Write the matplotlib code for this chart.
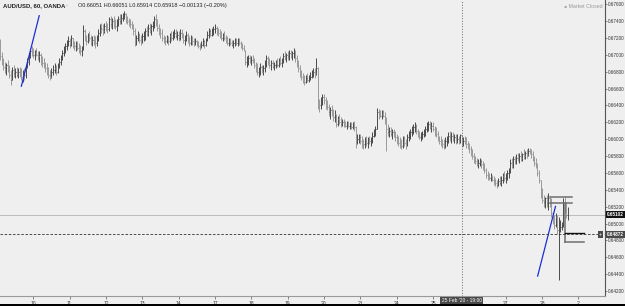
import numpy as np
import matplotlib
matplotlib.use("Agg")
import matplotlib.pyplot as plt
import matplotlib.transforms as mtransforms
from matplotlib.collections import LineCollection
from matplotlib import font_manager

plt.rcParams['font.family'] = ['Liberation Sans', 'DejaVu Sans']
_names = {f.name for f in font_manager.fontManager.ttflist}
NARROW = 'Liberation Sans Narrow' if 'Liberation Sans Narrow' in _names else 'Liberation Sans'
YSIZE = 3.9 if NARROW == 'Liberation Sans Narrow' else 3.3

# ---------------- data (hourly bars, prices in pips = price*10000) ----------------
lows_pips = [
    6694,6688,6682,6678,6676,6680,6672,6664,6670,6674,
    6672,6674,6672,6674,6670,6668,6670,6672,6684,6688,
    6696,6698,6696,6694,6698,6694,6692,6688,6686,6684,
    6680,6676,6672,6670,6672,6676,6678,6676,6678,6684,
    6688,6694,6698,6702,6706,6710,6708,6710,6708,6706,
    6704,6706,6702,6700,6698,6706,6716,6712,6714,6716,
    6712,6710,6712,6708,6710,6716,6722,6726,6724,6726,
    6728,6726,6728,6732,6730,6732,6730,6728,6734,6736,
    6736,6740,6742,6738,6736,6734,6732,6730,6724,6710,
    6712,6716,6714,6712,6714,6716,6718,6722,6722,6726,
    6724,6728,6732,6734,6728,6724,6720,6716,6714,6712,
    6714,6712,6714,6716,6718,6720,6720,6718,6716,6718,
    6720,6714,6712,6716,6714,6710,6712,6712,6710,6712,
    6710,6708,6706,6708,6710,6708,6710,6716,6720,6722,
    6722,6724,6726,6724,6722,6720,6718,6716,6718,6714,
    6712,6710,6712,6710,6708,6710,6712,6710,6712,6708,
    6706,6704,6688,6686,6688,6690,6688,6690,6684,6680,
    6676,6674,6676,6678,6676,6680,6686,6688,6684,6682,
    6684,6682,6684,6686,6686,6688,6686,6690,6694,6692,
    6694,6694,6696,6694,6696,6692,6686,6680,6674,6670,
    6666,6664,6666,6668,6668,6670,6672,6674,6672,6676,
    6636,6632,6636,6640,6642,6636,6634,6628,6624,6628,
    6622,6620,6614,6616,6618,6614,6616,6614,6614,6612,
    6614,6612,6612,6612,6610,6590,6594,6596,6594,6590,
    6588,6590,6592,6590,6594,6592,6596,6602,6604,6612,
    6624,6626,6624,6626,6618,6586,6604,6602,6604,6600,
    6602,6598,6594,6592,6590,6588,6590,6592,6588,6592,
    6598,6600,6604,6606,6608,6606,6602,6600,6598,6600,
    6602,6604,6608,6610,6612,6608,6610,6604,6602,6598,
    6594,6592,6590,6588,6590,6592,6596,6598,6596,6598,
    6596,6594,6596,6594,6596,6591,6592,6594,6590,6588,
    6584,6580,6576,6572,6570,6568,6566,6568,6566,6564,
    6560,6554,6552,6552,6550,6550,6546,6544,6542,6544,
    6546,6544,6548,6550,6548,6552,6554,6560,6566,6566,
    6570,6570,6574,6572,6574,6574,6576,6576,6578,6580,
    6582,6578,6574,6568,6566,6556,6548,6530,6524,6520,
    6518,6520,6516,6520,6508,6500,6494,6496,6488,6433,
    6490,6492,6496,6514,6506,6504,
]
highs_pips = [
    6719,6703,6696,6692,6690,6694,6688,6682,6686,6688,
    6684,6686,6684,6686,6684,6682,6684,6688,6696,6702,
    6708,6710,6708,6706,6708,6704,6704,6702,6698,6696,
    6692,6690,6686,6682,6684,6688,6690,6688,6690,6696,
    6700,6706,6710,6714,6718,6722,6720,6724,6720,6716,
    6716,6716,6714,6712,6710,6735,6730,6724,6726,6728,
    6724,6722,6724,6722,6724,6730,6736,6738,6736,6738,
    6740,6738,6745,6746,6744,6746,6742,6742,6746,6748,
    6748,6750,6752,6750,6746,6744,6742,6740,6736,6732,
    6724,6728,6726,6724,6726,6728,6732,6734,6736,6738,
    6736,6740,6746,6748,6742,6736,6732,6730,6724,6722,
    6724,6722,6726,6728,6728,6730,6730,6728,6728,6730,
    6730,6726,6724,6728,6726,6722,6724,6722,6720,6720,
    6718,6716,6714,6716,6720,6718,6720,6728,6732,6730,
    6732,6734,6736,6734,6732,6730,6728,6726,6728,6724,
    6722,6720,6720,6718,6718,6720,6720,6720,6720,6716,
    6714,6712,6706,6698,6700,6700,6698,6700,6696,6692,
    6690,6686,6690,6688,6688,6694,6700,6698,6696,6694,
    6694,6692,6694,6696,6696,6698,6696,6702,6704,6702,
    6704,6706,6706,6704,6708,6706,6700,6694,6688,6682,
    6678,6676,6676,6678,6676,6680,6682,6684,6684,6696,
    6686,6648,6650,6654,6654,6650,6646,6642,6638,6640,
    6636,6634,6630,6628,6630,6626,6624,6624,6622,6622,
    6622,6620,6620,6620,6622,6616,6606,6606,6606,6604,
    6600,6602,6604,6602,6604,6602,6608,6612,6616,6637,
    6636,6634,6634,6634,6632,6626,6618,6614,6614,6612,
    6612,6610,6606,6604,6602,6600,6604,6604,6600,6606,
    6610,6612,6616,6618,6620,6618,6612,6610,6608,6610,
    6612,6616,6620,6622,6622,6620,6620,6616,6614,6610,
    6604,6604,6600,6600,6602,6604,6608,6610,6608,6608,
    6606,6606,6606,6604,6606,6605,6602,6604,6602,6598,
    6596,6592,6588,6584,6580,6578,6576,6578,6576,6574,
    6572,6566,6562,6560,6560,6558,6556,6554,6552,6554,
    6556,6556,6560,6562,6560,6564,6566,6576,6578,6580,
    6580,6582,6584,6584,6586,6584,6588,6586,6588,6590,
    6590,6588,6586,6580,6578,6572,6564,6552,6542,6534,
    6532,6534,6536,6532,6530,6514,6510,6512,6510,6508,
    6504,6502,6530,6532,6526,6520,
]
closes_pips = [
    6698,6692,6686,6684,6688,6683,6676,6670,6682,6678,
    6680,6676,6680,6678,6674,6680,6676,6686,6692,6700,
    6704,6702,6700,6704,6700,6698,6700,6694,6690,6688,
    6684,6680,6676,6674,6680,6682,6684,6680,6688,6692,
    6696,6702,6706,6710,6714,6716,6712,6720,6712,6710,
    6712,6708,6706,6704,6708,6728,6720,6716,6722,6720,
    6716,6718,6716,6714,6720,6726,6732,6730,6728,6734,
    6732,6730,6742,6736,6740,6738,6734,6738,6742,6740,
    6744,6746,6748,6742,6740,6738,6736,6734,6728,6714,
    6720,6722,6718,6716,6722,6724,6728,6726,6732,6730,
    6734,6736,6742,6738,6732,6728,6726,6720,6718,6716,
    6720,6716,6722,6720,6724,6726,6722,6724,6720,6726,
    6722,6718,6720,6724,6716,6714,6718,6716,6714,6716,
    6712,6710,6708,6712,6716,6712,6718,6724,6728,6724,
    6728,6730,6732,6728,6726,6724,6720,6722,6720,6716,
    6714,6716,6714,6712,6714,6716,6714,6716,6714,6712,
    6708,6706,6692,6694,6696,6692,6694,6692,6688,6684,
    6680,6682,6686,6680,6684,6690,6696,6692,6688,6690,
    6686,6688,6690,6688,6692,6690,6694,6698,6696,6700,
    6698,6702,6700,6702,6704,6696,6690,6684,6678,6674,
    6670,6668,6672,6670,6672,6674,6678,6680,6678,6684,
    6642,6640,6644,6650,6646,6640,6638,6632,6634,6630,
    6626,6630,6618,6624,6620,6618,6620,6618,6616,6618,
    6616,6616,6614,6618,6614,6598,6600,6602,6598,6596,
    6594,6598,6596,6600,6598,6600,6604,6608,6612,6632,
    6630,6628,6630,6628,6622,6612,6608,6610,6606,6608,
    6604,6602,6598,6596,6594,6592,6600,6596,6592,6602,
    6606,6608,6612,6614,6616,6610,6604,6602,6604,6606,
    6608,6612,6616,6618,6614,6616,6612,6608,6606,6600,
    6598,6596,6594,6592,6598,6600,6604,6602,6604,6600,
    6602,6598,6600,6598,6605,6592,6598,6596,6594,6590,
    6588,6584,6580,6576,6574,6570,6572,6574,6570,6568,
    6564,6558,6556,6554,6556,6552,6550,6548,6546,6550,
    6548,6552,6556,6554,6558,6560,6562,6572,6570,6576,
    6574,6578,6576,6580,6578,6582,6580,6584,6582,6586,
    6584,6582,6576,6572,6570,6560,6552,6536,6528,6526,
    6530,6524,6530,6528,6512,6506,6498,6508,6492,6494,
    6496,6498,6526,6520,6510,6510,
]
first_open_pips = 6710

day_labels = ['10', '11', '12', '13', '14', '17', '18', '19', '20', '21',
              '24', '25', '26', '27', '28', '2']
day_start_bar = [22, 46, 70, 94, 118, 142, 166, 190, 214, 238,
                 262, 286, 310, 334, 358, 382]
price_ticks = [0.642, 0.644, 0.646, 0.648, 0.650, 0.652, 0.654, 0.656, 0.658,
               0.660, 0.662, 0.664, 0.666, 0.668, 0.670, 0.672, 0.674, 0.676]

# trend lines drawn by the user (bar index, price)
trend1_bar = [14, 26]
trend1_price = [0.6662, 0.6747]
trend2_bar = [355, 367]
trend2_price = [0.6437, 0.6521]

# short horizontal drawings near the end
box_top_prices = [0.6531, 0.6524]
box_top_bars = [363, 378]
level_prices = [0.64890, 0.64780]
level_bars = [373, 386]
level_vert_prices = [0.6523, 0.6478]

last_price = 0.65102
cross_price = 0.64872
cross_bar = 305
cross_label = "25 Feb '20 - 19:00"
title_main = "AUD/USD, 60, OANDA"
title_ohlc = "O0.66051 H0.66051 L0.65914 C0.65918 \u22120.00133 (\u22120.20%)"

# ---------------- figure ----------------
BG = '#efefef'
W, H = 625, 306
fig = plt.figure(figsize=(W / 100, H / 100), dpi=100, facecolor=BG)
ax = fig.add_axes([0, 10 / H, 605 / W, 296 / H], facecolor=BG)

lows = np.array(lows_pips) / 1e4
highs = np.array(highs_pips) / 1e4
closes = np.array(closes_pips) / 1e4
opens = np.concatenate([[first_open_pips / 1e4], closes[:-1]])
x = np.arange(len(closes))

up = closes >= opens
cols = np.where(up, '#4a4a4a', '#9a9a9a')

ax.vlines(x, lows, highs, colors=cols, linewidth=0.7)
segs_o = [[(xi - 0.45, o), (xi, o)] for xi, o in zip(x, opens)]
segs_c = [[(xi, c), (xi + 0.45, c)] for xi, c in zip(x, closes)]
ax.add_collection(LineCollection(segs_o, colors=cols, linewidths=0.55))
ax.add_collection(LineCollection(segs_c, colors=cols, linewidths=0.55))

# drawings
ax.plot(trend1_bar, trend1_price, color='#1a2fd6', lw=0.9, solid_capstyle='butt')
ax.plot(trend2_bar, trend2_price, color='#1a2fd6', lw=0.9, solid_capstyle='butt')
for p in box_top_prices:
    ax.plot(box_top_bars, [p, p], color='#6e6e6e', lw=1.1)
ax.plot([level_bars[0], level_bars[0]], level_vert_prices, color='#6e6e6e', lw=1.1)
ax.plot(level_bars, [level_prices[0]] * 2, color='#111111', lw=1.0)
ax.plot(level_bars, [level_prices[1]] * 2, color='#6e6e6e', lw=1.1)

# price line and crosshair
ax.axhline(last_price, color='#b4b4b4', lw=0.6, zorder=0.5)
ax.axhline(cross_price, color='#333333', lw=0.6, ls=(0, (3, 2)))
ax.axvline(cross_bar, color='#555555', lw=0.6, ls=(0, (1.2, 2)))

ax.set_xlim(0, 399.6)
ax.set_ylim(0.64141, 0.67649)

for s in ['left', 'top']:
    ax.spines[s].set_visible(False)
ax.spines['right'].set_color('#555555')
ax.spines['right'].set_linewidth(0.8)
ax.spines['bottom'].set_color('#9a9a9a')
ax.spines['bottom'].set_linewidth(0.8)

ax.yaxis.tick_right()
ax.set_yticks(price_ticks)
ax.set_yticklabels([f"{p:.5f}" for p in price_ticks], fontfamily=NARROW)
ax.set_xticks(day_start_bar)
ax.set_xticklabels(day_labels)
ax.tick_params(axis='y', direction='out', length=1.5, width=0.5, color='#555555',
               labelsize=YSIZE, labelcolor='#333333', pad=0.8)
ax.tick_params(axis='x', direction='out', length=2, width=0.5, color='#555555',
               labelsize=3.6, labelcolor='#333333', pad=1.5)
# the day label under the crosshair time box is covered by that box
for lbl, pos in zip(ax.get_xticklabels(), day_start_bar):
    if abs(pos - cross_bar) < 10:
        lbl.set_visible(False)

# right-axis price labels
tr_y = mtransforms.blended_transform_factory(ax.transAxes, ax.transData)
for price, fc in [(last_price, '#111111'), (cross_price, '#4a4a4a')]:
    ax.text(1.003, price, f"{price:.5f}", transform=tr_y, fontsize=YSIZE,
            color='white', va='center', ha='left', fontweight='bold', fontfamily=NARROW,
            bbox=dict(boxstyle='square,pad=0.22', fc=fc, ec='none'), clip_on=False)
ax.text(0.995, cross_price, "+", transform=tr_y, fontsize=3.8, color='white',
        va='center', ha='right',
        bbox=dict(boxstyle='square,pad=0.15', fc='#4a4a4a', ec='none'), clip_on=False)

# bottom crosshair time label
tr_x = mtransforms.blended_transform_factory(ax.transData, ax.transAxes)
ax.text(cross_bar, -0.008, cross_label, transform=tr_x, fontsize=3.5, color='white',
        va='top', ha='center', zorder=5,
        bbox=dict(boxstyle='square,pad=0.3', fc='#4a4a4a', ec='none'), clip_on=False)

# header texts
fig.text(3 / W, 1 - 6 / H, title_main, fontsize=4.3, color='#222222',
         va='center', ha='left', fontweight='bold')
fig.text(66 / W, 1 - 6 / H, "-", fontsize=4.3, color='#888888', va='center', ha='left')
fig.text(78 / W, 1 - 6 / H, title_ohlc, fontsize=4.0, color='#222222',
         va='center', ha='left')
fig.text(603 / W, 1 - 6 / H, "\u25cf Market Closed", fontsize=3.8, color='#9a9a9a',
         va='center', ha='right')

# bottom black edge
fig.patches.append(plt.Rectangle((0, 0), 1, 2 / H, transform=fig.transFigure,
                                 fc='black', ec='none'))

fig.savefig('out.png', dpi=100, facecolor=BG)
